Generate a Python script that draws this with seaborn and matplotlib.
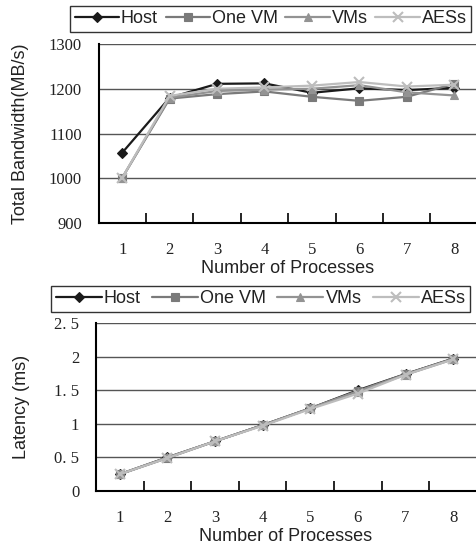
import matplotlib
matplotlib.use("Agg")
import matplotlib.pyplot as plt
import seaborn as sns
import pandas as pd
import numpy as np

processes = [1, 2, 3, 4, 5, 6, 7, 8]
series_names = ["Host", "One VM", "VMs", "AESs"]

bw_host = [1057, 1180, 1211, 1212, 1191, 1201, 1197, 1202]
bw_onevm = [1001, 1178, 1188, 1194, 1182, 1173, 1182, 1211]
bw_vms = [1001, 1180, 1195, 1198, 1200, 1208, 1192, 1185]
bw_aess = [1001, 1184, 1200, 1203, 1207, 1215, 1205, 1209]

lat_host = [0.25, 0.50, 0.74, 0.98, 1.23, 1.50, 1.74, 1.97]
lat_onevm = [0.25, 0.49, 0.74, 0.98, 1.23, 1.49, 1.74, 1.97]
lat_vms = [0.25, 0.50, 0.74, 0.98, 1.23, 1.48, 1.73, 1.96]
lat_aess = [0.25, 0.49, 0.74, 0.97, 1.22, 1.45, 1.73, 1.96]

bw_ticks = [900, 1000, 1100, 1200, 1300]
bw_ticklabels = ["900", "1000", "1100", "1200", "1300"]
lat_ticks = [0, 0.5, 1, 1.5, 2, 2.5]
lat_ticklabels = ["0", "0. 5", "1", "1. 5", "2", "2. 5"]

colors = ["#1a1a1a", "#7a7a7a", "#939393", "#bdbdbd"]
markers = ["D", "s", "^", "x"]
msizes = [5, 6, 6, 7]

sns.set_theme(style="white")
plt.rcParams["font.family"] = ["Liberation Sans", "DejaVu Sans"]

fig = plt.figure(figsize=(4.76, 5.52), dpi=100)
W, H = 476, 552

def add_ax(left_px, top_px, bottom_px):
    return fig.add_axes([left_px / W, 1 - bottom_px / H, (W - left_px) / W, (bottom_px - top_px) / H])

ax1 = add_ax(98.5, 44, 223)
ax2 = add_ax(96, 323, 491)

def draw(ax, data, ylim, ticks, ticklabels, ylabel, xlim_right, legend_anchor, ylab_x,
         hlen, cspace):
    for name, vals, c, m, ms in zip(series_names, data, colors, markers, msizes):
        df = pd.DataFrame({"x": processes, "y": vals})
        sns.lineplot(data=df, x="x", y="y", ax=ax, color=c, marker=m, markersize=ms,
                     linewidth=1.6, markeredgecolor=c, markeredgewidth=1.5 if m == "x" else 0.8,
                     label=name, legend=False)
    lines = ax.get_lines()
    ax.set_xlim(0.5, xlim_right)
    ax.set_ylim(*ylim)
    ax.set_yticks(ticks)
    ax.set_yticklabels(ticklabels, fontfamily="Liberation Serif", fontsize=12, color="#222222")
    ax.set_xticks(processes)
    ax.set_xticklabels([str(p) for p in processes], fontfamily="Liberation Serif", fontsize=12, color="#222222")
    ax.set_xticks([p + 0.5 for p in processes[:-1]], minor=True)
    ax.tick_params(axis="x", which="major", length=0, pad=14)
    ax.tick_params(axis="x", which="minor", direction="in", length=7, width=1.2, color="black", bottom=True)
    ax.tick_params(axis="y", length=0, pad=12)
    ax.yaxis.grid(True, color="#555555", linewidth=1.0)
    ax.xaxis.grid(False)
    ax.set_axisbelow(True)
    for s in ["top", "right"]:
        ax.spines[s].set_visible(False)
    for s in ["left", "bottom"]:
        ax.spines[s].set_visible(True)
        ax.spines[s].set_color("black")
        ax.spines[s].set_linewidth(1.5)
    ax.set_xlabel("Number of Processes", fontsize=13, labelpad=1, color="#222222")
    ax.set_ylabel(ylabel, fontsize=13, color="#222222")
    ax.yaxis.set_label_coords(ylab_x, 0.5)
    leg = ax.legend(handles=lines, labels=series_names, ncol=4, loc="lower left",
                    bbox_to_anchor=legend_anchor, bbox_transform=fig.transFigure,
                    frameon=True, fancybox=False, edgecolor="black", fontsize=13,
                    handlelength=hlen, handletextpad=0.12, columnspacing=cspace,
                    borderpad=0.25, borderaxespad=0)
    leg.get_frame().set_linewidth(1.0)
    for t in leg.get_texts():
        t.set_color("#222222")

draw(ax1, [bw_host, bw_onevm, bw_vms, bw_aess], (900, 1300), bw_ticks, bw_ticklabels,
     "Total Bandwidth(MB/s)", 8.46, (70 / W, 1 - 32 / H), -0.184, 2.45, 0.42)
draw(ax2, [lat_host, lat_onevm, lat_vms, lat_aess], (0, 2.5), lat_ticks, lat_ticklabels,
     "Latency (ms)", 8.48, (51 / W, 1 - 312 / H), -0.174, 2.55, 0.62)

fig.savefig("out.png", dpi=100)
